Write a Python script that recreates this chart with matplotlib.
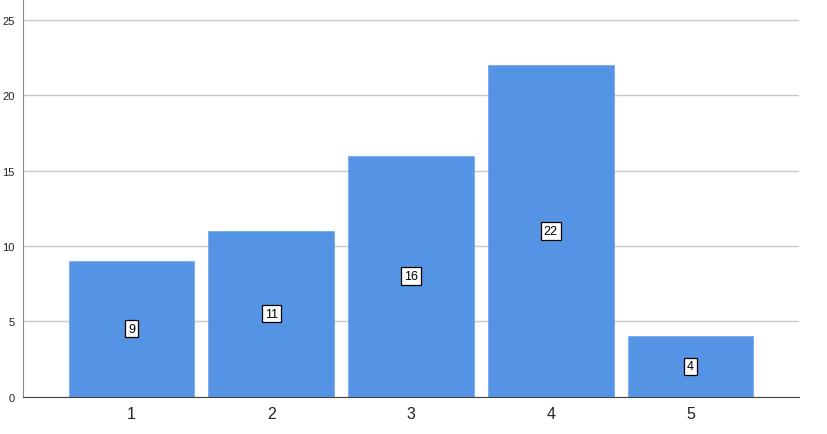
import matplotlib
matplotlib.use("Agg")
import matplotlib.pyplot as plt

plt.rcParams['font.family'] = ['Liberation Sans', 'DejaVu Sans']

categories = [1, 2, 3, 4, 5]
counts = [9, 11, 16, 22, 4]
y_ticks = [0, 5, 10, 15, 20, 25]

fig = plt.figure(figsize=(8.28, 4.35), dpi=100)
ax = fig.add_axes([23 / 828, 1 - 397.5 / 435, (799 - 23) / 828, 396.5 / 435])

ax.bar(categories, counts, width=0.898, color='#5594e4', edgecolor='#6aa3ec',
       linewidth=0.5, zorder=3)

# value labels in white boxes at the middle of each bar
for c, v in zip(categories, counts):
    ax.text(c, v / 2, str(v), ha='center', va='center', fontsize=9, zorder=4,
            bbox=dict(boxstyle='square,pad=0.22', facecolor='white',
                      edgecolor='black', linewidth=0.9))

ax.set_xlim(0.224, 5.776)
ax.set_ylim(0, 26.33)
ax.set_yticks(y_ticks)
ax.set_xticks(categories)
ax.yaxis.grid(True, color='#c8c8c8', linewidth=1.0, zorder=0)
ax.set_axisbelow(True)

ax.tick_params(axis='y', length=0, pad=6, labelsize=8, labelcolor='#222222')
ax.tick_params(axis='x', length=0, pad=7, labelsize=11.5, labelcolor='#222222')

for s in ['top', 'right']:
    ax.spines[s].set_visible(False)
ax.spines['left'].set_color('#888888')
ax.spines['bottom'].set_color('#444444')
ax.spines['bottom'].set_zorder(5)

fig.savefig('out.png', dpi=100)
